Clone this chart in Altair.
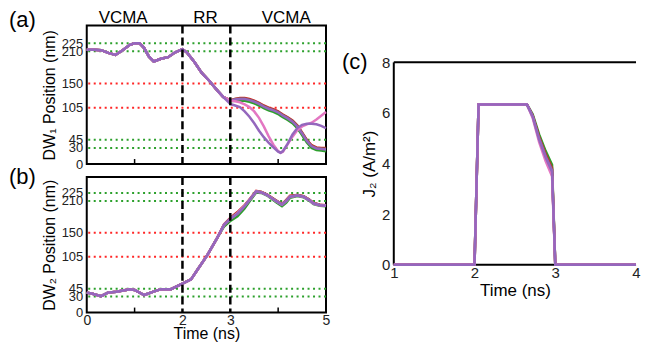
import altair as alt
import pandas as pd

FONT = "Liberation Sans"
GREEN_DOT = "#2ca02c"
RED_DOT = "#ff2626"

SERIES_ORDER = ["green", "red", "brown", "purple2", "pink", "purple"]
SERIES_COLORS = {
    "green": "#2ca02c",
    "red": "#d62728",
    "brown": "#8c564b",
    "purple2": "#9467bd",
    "pink": "#e377c2",
    "purple": "#9467bd",
}

# ---------------- panel (a): DW1 position ----------------
t_a = [0.0, 0.15, 0.3, 0.45, 0.6, 0.75, 0.9, 1.0, 1.1, 1.2, 1.3, 1.4, 1.55, 1.7, 1.85,
       2.0, 2.1, 2.25, 2.4, 2.55, 2.7, 2.85, 3.0, 3.1, 3.2, 3.3, 3.4, 3.5, 3.6, 3.7,
       3.8, 3.9, 4.0, 4.05, 4.1, 4.2, 4.3, 4.4, 4.5, 4.6, 4.7, 4.8, 4.9, 5.0]
dw1_before = [213, 213, 212, 207, 203, 212, 222, 225, 225, 216, 200, 191, 196, 199, 208,
              214, 207, 190, 170, 156, 140, 125]
dw1_after = {
    "green":   [117, 118, 118, 118, 116, 113, 109, 104, 100, 97, 93, 90, 87, 82, 76, 67, 54, 40, 30, 26, 25, 24],
    "red":     [119, 121, 123, 123, 121, 118, 114, 109, 105, 102, 98, 95, 92, 87, 81, 72, 59, 45, 35, 31, 30, 30],
    "brown":   [118, 121, 122, 122, 120, 117, 113, 108, 104, 101, 97, 94, 91, 86, 80, 71, 58, 44, 34, 30, 29, 29],
    "purple2": [118, 120, 121, 121, 119, 116, 112, 107, 103, 100, 96, 93, 90, 85, 79, 70, 57, 43, 33, 29, 28, 27],
    "pink":    [118, 117, 115, 111, 106, 98, 86, 70, 52, 36, 24, 21, 23, 37, 51, 63, 70, 74, 77, 83, 90, 97],
    "purple":  [112, 109, 106, 98, 88, 76, 62, 50, 40, 31, 23, 21, 24, 38, 55, 67, 73, 75, 75, 74, 71, 67],
}

# ---------------- panel (b): DW2 position ----------------
t_b = [0.0, 0.1, 0.3, 0.44, 0.62, 0.9, 1.0, 1.2, 1.38, 1.55, 1.76, 1.99, 2.18, 2.31, 2.52, 2.73,
       2.87, 3.01, 3.15, 3.29, 3.42, 3.54, 3.65, 3.77, 3.95, 4.08, 4.17, 4.25, 4.4, 4.53, 4.64,
       4.74, 4.87, 5.0]
dw2_before = [37.5, 36, 31, 37.5, 39, 44, 42.5, 33, 39, 44, 44, 54, 62.5, 80, 108, 141]
dw2_after = {
    "green":   [162, 173, 181, 195, 211, 226, 225, 220, 208, 200, 207, 216, 219, 217, 211, 204, 201, 200],
    "red":     [166, 179, 189, 201, 215, 229, 227, 222, 211, 204, 212, 220, 221, 219, 213, 206, 203, 202],
    "brown":   [165, 178, 188, 200, 214, 228, 227, 222, 211, 204, 211, 219, 221, 219, 213, 206, 203, 201],
    "purple2": [165, 177, 186, 199, 213, 227, 226, 221, 210, 203, 210, 218, 220, 218, 212, 205, 202, 201],
    "pink":    [165, 177, 187, 200, 214, 228, 226, 221, 210, 203, 210, 218, 220, 218, 212, 205, 202, 201],
    "purple":  [165, 177, 186, 199, 214, 228, 226, 221, 210, 203, 210, 218, 220, 218, 212, 205, 202, 201],
}

# ---------------- panel (c): J2 current ----------------
t_c = [1.0, 2.0, 2.05, 2.65, 2.72, 2.8, 2.88, 2.96, 3.0, 4.0]
j2 = {
    "green":   [0, 0, 6.33, 6.33, 5.95, 5.15, 4.50, 3.95, 0, 0],
    "red":     [0, 0, 6.33, 6.33, 5.90, 5.05, 4.38, 3.82, 0, 0],
    "brown":   [0, 0, 6.33, 6.33, 5.88, 5.00, 4.32, 3.76, 0, 0],
    "purple2": [0, 0, 6.33, 6.33, 5.87, 4.98, 4.28, 3.72, 0, 0],
    "pink":    [0, 0, 6.33, 6.33, 5.80, 4.85, 4.10, 3.50, 0, 0],
    "purple":  [0, 0, 6.33, 6.33, 5.85, 4.95, 4.25, 3.68, 0, 0],
}

Y_TICKS_AB = [0, 30, 45, 105, 150, 210, 225]
GREEN_LEVELS = [225, 210, 45, 30]
RED_LEVELS = [150, 105]
SWITCH_TIMES = [2, 3]
MINOR_TICKS = [1, 4]
PHASES_T = [0.76, 2.48, 4.17]
PHASES = ["VCMA", "RR", "VCMA"]

WL, HA, HB = 240, 139, 136
WC = 243
C_TOP, C_BOT = 37, 240


def long_df(t, series):
    rows = []
    for name in SERIES_ORDER:
        for ti, v in zip(t, series[name]):
            rows.append({"t": ti, "v": v, "s": name})
    return pd.DataFrame(rows)


def line_layers(df, X, Y):
    return [
        alt.Chart(df[df.s == n]).mark_line(color=SERIES_COLORS[n], strokeWidth=2.5).encode(x=X, y=Y)
        for n in SERIES_ORDER
    ]


one = pd.DataFrame({"k": [0]})


def frame(w, y0, y1):
    return alt.Chart(one).mark_rect(fillOpacity=0, stroke="black", strokeWidth=2).encode(
        x=alt.value(0), x2=alt.value(w), y=alt.value(y0), y2=alt.value(y1))


def edge(x0, x1, y0, y1):
    return alt.Chart(one).mark_rule(color="black", strokeWidth=2).encode(
        x=alt.value(x0), x2=alt.value(x1), y=alt.value(y0), y2=alt.value(y1))


def panel_label(txt, x, y):
    return alt.Chart(one).mark_text(font=FONT, fontSize=22, align="left", baseline="top",
                                    color="black").encode(
        x=alt.value(x), y=alt.value(y), text=alt.value(txt))


def y_axis_ab(title):
    return alt.Axis(values=Y_TICKS_AB, labelOverlap=False, ticks=False, tickSize=0, domain=False,
                    grid=False, labelPadding=4, labelFontSize=13, labelFont=FONT, labelColor="#222",
                    title=title, titleFont=FONT, titleFontSize=16, titleFontWeight="normal",
                    titleColor="black", titleX=-37, titleBaseline="middle")


def ab_panel(t, before, after, ydom, height, ytitle, X, label, label_y, phases):
    Y = alt.Y("v:Q", scale=alt.Scale(domain=[0, ydom], nice=False), axis=y_axis_ab(ytitle))
    series = {n: before + after[n] for n in SERIES_ORDER}
    df = long_df(t, series)
    layers = [frame(WL, 0, height)]
    layers.append(alt.Chart(pd.DataFrame({"v": GREEN_LEVELS})).mark_rule(
        color=GREEN_DOT, strokeDash=[2, 3.5], strokeWidth=2).encode(y=Y))
    layers.append(alt.Chart(pd.DataFrame({"v": RED_LEVELS})).mark_rule(
        color=RED_DOT, strokeDash=[2, 3.5], strokeWidth=2).encode(y=Y))
    layers += line_layers(df, X, Y)
    layers.append(alt.Chart(pd.DataFrame({"t": SWITCH_TIMES})).mark_rule(
        color="black", strokeDash=[8, 4], strokeWidth=2.5).encode(x=X))
    layers.append(alt.Chart(pd.DataFrame({"t": MINOR_TICKS})).mark_rule(
        color="black", strokeWidth=1.5).encode(x=X, y=alt.value(height), y2=alt.value(height - 5)))
    if phases:
        layers.append(alt.Chart(pd.DataFrame({"t": PHASES_T, "label": PHASES})).mark_text(
            font=FONT, fontSize=17, baseline="top", color="black").encode(
            x=X, y=alt.value(-15), text="label:N"))
    layers.append(panel_label(label, -78, label_y))
    return alt.layer(*layers).properties(width=WL, height=height)


xs_ab = alt.Scale(domain=[0, 5], nice=False, zero=False)
X_A = alt.X("t:Q", scale=xs_ab, axis=None)
X_B = alt.X("t:Q", scale=xs_ab, axis=alt.Axis(
    values=[0, 2, 3, 5], labelFlush=False, ticks=False, tickSize=0, domain=False, grid=False,
    labelPadding=1, labelFontSize=14, labelFont=FONT, labelColor="#222", title="Time (ns)",
    titleFont=FONT, titleFontSize=16, titleFontWeight="normal", titleColor="black", titleY=13))

panel_a = ab_panel(t_a, dw1_before, dw1_after, 258, HA, "DW₁ Position (nm)", X_A, "(a)", -15, True)
panel_b = ab_panel(t_b, dw2_before, dw2_after, 255, HB, "DW₂ Position (nm)", X_B, "(b)", -10, False)

X_C = alt.X("t:Q", scale=alt.Scale(domain=[1, 4], nice=False, zero=False), axis=alt.Axis(
    values=[1, 2, 3, 4], labelFlush=False, offset=C_BOT - HA, ticks=False, tickSize=0, domain=False,
    grid=False, labelPadding=1, labelFontSize=15, labelFont=FONT, labelColor="#222",
    title="Time (ns)", titleFont=FONT, titleFontSize=17, titleFontWeight="normal",
    titleColor="black", titlePadding=1.5))
Y_C = alt.Y("v:Q", scale=alt.Scale(domain=[0, 8], range=[C_BOT, C_TOP], nice=False), axis=alt.Axis(
    values=[0, 2, 4, 6, 8], ticks=False, tickSize=0, domain=False, grid=False, labelPadding=4,
    labelFontSize=15, labelFont=FONT, labelColor="#222", title="J₂ (A/m²)", titleFont=FONT,
    titleFontSize=17, titleFontWeight="normal", titleColor="black", titleX=-24,
    titleBaseline="middle"))

df_c = long_df(t_c, j2)
panel_c = alt.layer(
    edge(0, WC, C_TOP, C_TOP),
    edge(0, 0, C_TOP, C_BOT),
    edge(0, WC, C_BOT, C_BOT),
    *line_layers(df_c, X_C, Y_C),
    panel_label("(c)", -52, 27),
).properties(width=WC, height=HA)

chart = alt.concat(
    panel_a, panel_c, panel_b,
    columns=2, spacing={"row": 13, "column": 68}, bounds="flush", align="each",
).properties(padding=0).configure_view(stroke="transparent")

chart.save("out.html", embed_options={"renderer": "svg", "actions": False})
